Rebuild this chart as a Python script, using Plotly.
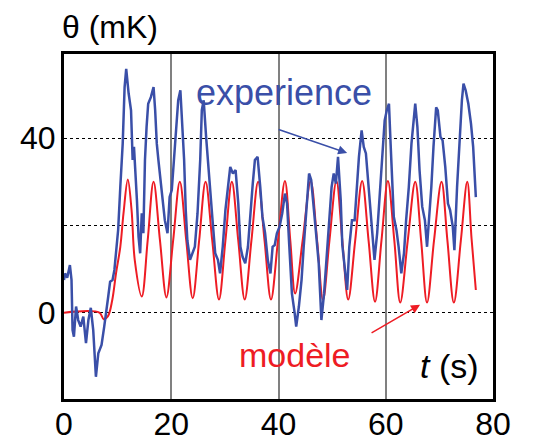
import plotly.graph_objects as go

# experience (blue)
t_exp = [0.0, 0.2, 0.6, 1.1, 1.4, 1.6, 1.85, 2.25, 2.65, 3.1, 3.6, 4.1, 4.55, 5.0, 5.45,
         5.95, 6.4, 7.0, 7.5, 7.85, 8.25, 8.6, 9.05, 9.4, 9.8, 10.1, 10.5, 10.95, 11.3,
         11.6, 12.05, 12.5, 12.8, 13.05, 13.6, 13.9, 14.2, 14.5, 14.8, 15.1, 15.4, 15.7,
         16.2, 16.7, 17.0, 17.3, 17.6, 18.1, 18.5, 18.8, 19.3, 19.7, 20.1, 20.5, 20.9,
         21.3, 21.7, 22.1, 22.4, 22.7, 23.0, 23.5, 23.9, 24.4, 24.9, 25.4, 25.7, 26.05,
         26.5, 26.9, 27.3, 27.7, 28.2, 28.7, 29.1, 29.6, 30.1, 30.6, 31.0, 31.5, 32.0,
         32.5, 32.9, 33.3, 33.8, 34.3, 34.7, 35.2, 35.6, 36.1, 36.6, 37.0, 37.5, 38.0,
         38.5, 38.9, 39.3, 39.7, 40.2, 40.7, 41.2, 41.6, 42.0, 42.5, 43.0, 43.3, 43.8,
         44.3, 44.7, 45.2, 45.7, 46.1, 46.6, 47.0, 47.5, 48.0, 48.5, 48.9, 49.4, 49.9,
         50.3, 50.7, 51.1, 51.6, 51.9, 52.4, 52.8, 53.2, 53.7, 54.2, 54.6, 55.0, 55.5,
         55.9, 56.3, 56.7, 57.1, 57.6, 57.9, 58.4, 58.8, 59.3, 59.8, 60.2, 60.6, 60.9,
         61.2, 61.5, 62.0, 62.4, 62.9, 63.4, 63.8, 64.3, 64.8, 65.2, 65.5, 65.9, 66.3,
         66.8, 67.3, 67.7, 68.2, 68.5, 68.9, 69.4, 69.7, 70.2, 70.6, 71.1, 71.6, 72.0,
         72.5, 72.8, 73.3, 73.7, 74.2, 74.5, 74.9, 75.4, 75.9, 76.3, 76.8]
v_exp = [7.5, 9.0, 8.0, 10.9, 7.5, -4.0, -5.5, 1.4, -1.7, -3.2, -0.9, -7.0, -1.7, 1.1, -4.0,
         -14.7, -9.3, -7.4, -3.2, 0.6, 3.7, 7.1, 7.5, 9.8, 14.4, 19.0, 28.8, 38.8, 51.7,
         55.9, 50.3, 46.4, 35.0, 38.0, 25.8, 17.4, 13.6, 22.8, 18.2, 35.0, 42.6, 47.9,
         49.4, 51.7, 46.4, 38.8, 35.0, 28.8, 23.5, 21.2, 18.2, 26.5, 28.1, 35.0, 42.6,
         48.7, 51.0, 42.6, 35.0, 23.5, 16.6, 12.1, 13.6, 15.1, 22.8, 35.0, 46.4, 48.7,
         40.3, 33.4, 27.3, 21.2, 13.6, 12.1, 9.0, 15.1, 23.5, 28.8, 33.4, 31.9, 32.7,
         25.0, 15.1, 12.8, 11.3, 15.1, 22.7, 29.6, 35.0, 35.7, 28.8, 22.0, 18.2, 12.1,
         9.0, 15.1, 15.5, 18.2, 19.7, 22.8, 27.3, 25.0, 15.5, 4.4, 0.0, -3.2, 1.4,
         7.5, 15.1, 23.5, 31.9, 30.4, 24.3, 18.2, 11.3, -1.7, 4.4, 12.1, 21.2, 28.8,
         31.9, 29.6, 35.7, 25.8, 15.5, 9.0, 5.2, 15.1, 21.2, 21.2, 28.8, 35.7, 41.8,
         38.0, 36.5, 30.4, 22.8, 16.6, 12.1, 18.2, 25.8, 35.0, 44.1, 46.4, 47.9, 38.8,
         31.1, 22.0, 18.9, 15.1, 9.0, 13.6, 21.2, 28.8, 38.8, 44.1, 47.9, 42.6, 32.7,
         24.3, 21.2, 15.1, 22.8, 28.8, 38.0, 47.1, 46.4, 40.3, 39.5, 33.4, 25.0, 23.5,
         19.7, 14.3, 28.8, 38.8, 48.7, 52.5, 51.0, 47.9, 43.3, 38.0, 26.5]

# modele (red): peaks, midpoints and troughs
t_mod = [0.0, 6.6, 7.4, 8.2, 9.0, 9.7, 10.5, 11.1, 11.9, 12.6, 13.2, 14.5, 15.6, 16.7,
         17.9, 19.1, 20.35, 21.6, 22.8, 24.0, 25.2, 26.4, 27.65, 28.9, 30.1, 31.3, 32.5,
         33.7, 34.95, 36.2, 37.4, 38.6, 39.9, 41.2, 42.2, 43.1, 44.5, 46.0, 47.2, 48.3,
         49.5, 50.8, 51.9, 53.0, 54.3, 55.6, 56.8, 58.0, 59.2, 60.4, 61.6, 62.7, 64.1,
         65.5, 66.6, 67.7, 69.0, 70.4, 71.5, 72.7, 74.0, 75.2, 76.0, 76.8]
v_mod = [0.0, 0.0, -1.5, -0.8, 2.9, 9.0, 15.1, 22.8, 30.5, 23.5, 12.0, 3.7, 16.5, 30.0,
         16.5, 3.5, 16.5, 30.0, 16.5, 3.3, 16.5, 30.0, 16.5, 3.0, 16.5, 30.0, 16.5,
         3.0, 16.5, 30.0, 16.5, 3.0, 16.5, 30.2, 16.5, 4.4, 16.5, 30.2, 16.5, 2.9,
         16.5, 30.2, 16.5, 3.0, 16.5, 30.2, 16.5, 2.5, 16.5, 30.2, 16.5, 2.3, 16.5,
         30.0, 16.5, 2.3, 16.5, 30.0, 16.5, 2.3, 16.5, 30.0, 17.0, 5.2]

x_ticks = [0, 20, 40, 60, 80]
y_ticks = [0, 20, 40]
y_ticktext = ["0", "", "40"]

BLUE = "#3a4fa8"
RED = "#ee1c24"
FONT = "Liberation Sans"

fig = go.Figure()
fig.add_trace(go.Scatter(x=t_mod, y=v_mod, mode="lines",
                         line=dict(color=RED, width=2, shape="spline", smoothing=1)))
fig.add_trace(go.Scatter(x=t_exp, y=v_exp, mode="lines",
                         line=dict(color=BLUE, width=2.5)))

# page body has an 8px margin, so the figure is sized/offset to compensate
fig.update_layout(
    width=527, height=433, showlegend=False,
    margin=dict(l=56, r=42, t=46, b=42),
    paper_bgcolor="white", plot_bgcolor="white",
    font=dict(family=FONT, size=32, color="black"),
    xaxis=dict(range=[0, 80], tickvals=x_ticks, showgrid=True, gridcolor="#808080",
               gridwidth=2, showline=True, mirror=True, linecolor="black", linewidth=2.5,
               zeroline=False, ticks="", ticklabelstandoff=-5, tickfont=dict(size=32),
               automargin=False),
    yaxis=dict(range=[-19.8, 59.3], tickvals=y_ticks, ticktext=y_ticktext, showgrid=True,
               gridcolor="black", gridwidth=1.2, griddash="dot", showline=True, mirror=True,
               linecolor="black", linewidth=3, zeroline=False, ticks="",
               ticklabelstandoff=-1, tickfont=dict(size=32), automargin=False),
    annotations=[
        dict(text="θ (mK)", xref="paper", yref="paper", x=-0.01, y=1.02,
             xanchor="left", yanchor="bottom", showarrow=False, font=dict(size=32)),
        dict(text="experience", x=41.0, y=45.3, xanchor="center", yanchor="bottom",
             showarrow=False, font=dict(size=36, color=BLUE)),
        dict(text="modèle", x=43.1, y=-14.6, xanchor="center", yanchor="bottom",
             showarrow=False, font=dict(size=34, color=RED)),
        dict(text="<i>t</i> (s)", x=71.8, y=-17.0, xanchor="center", yanchor="bottom",
             showarrow=False, font=dict(size=34, color="black")),
        dict(text="", x=52.8, y=36.6, ax=-70, ay=-24, showarrow=True, arrowhead=2,
             arrowsize=1.2, arrowwidth=1.5, arrowcolor=BLUE),
        dict(text="", x=66.4, y=1.8, ax=-50, ay=29, showarrow=True, arrowhead=2,
             arrowsize=1.2, arrowwidth=1.5, arrowcolor=RED),
    ],
)

fig.write_html("out.html")
